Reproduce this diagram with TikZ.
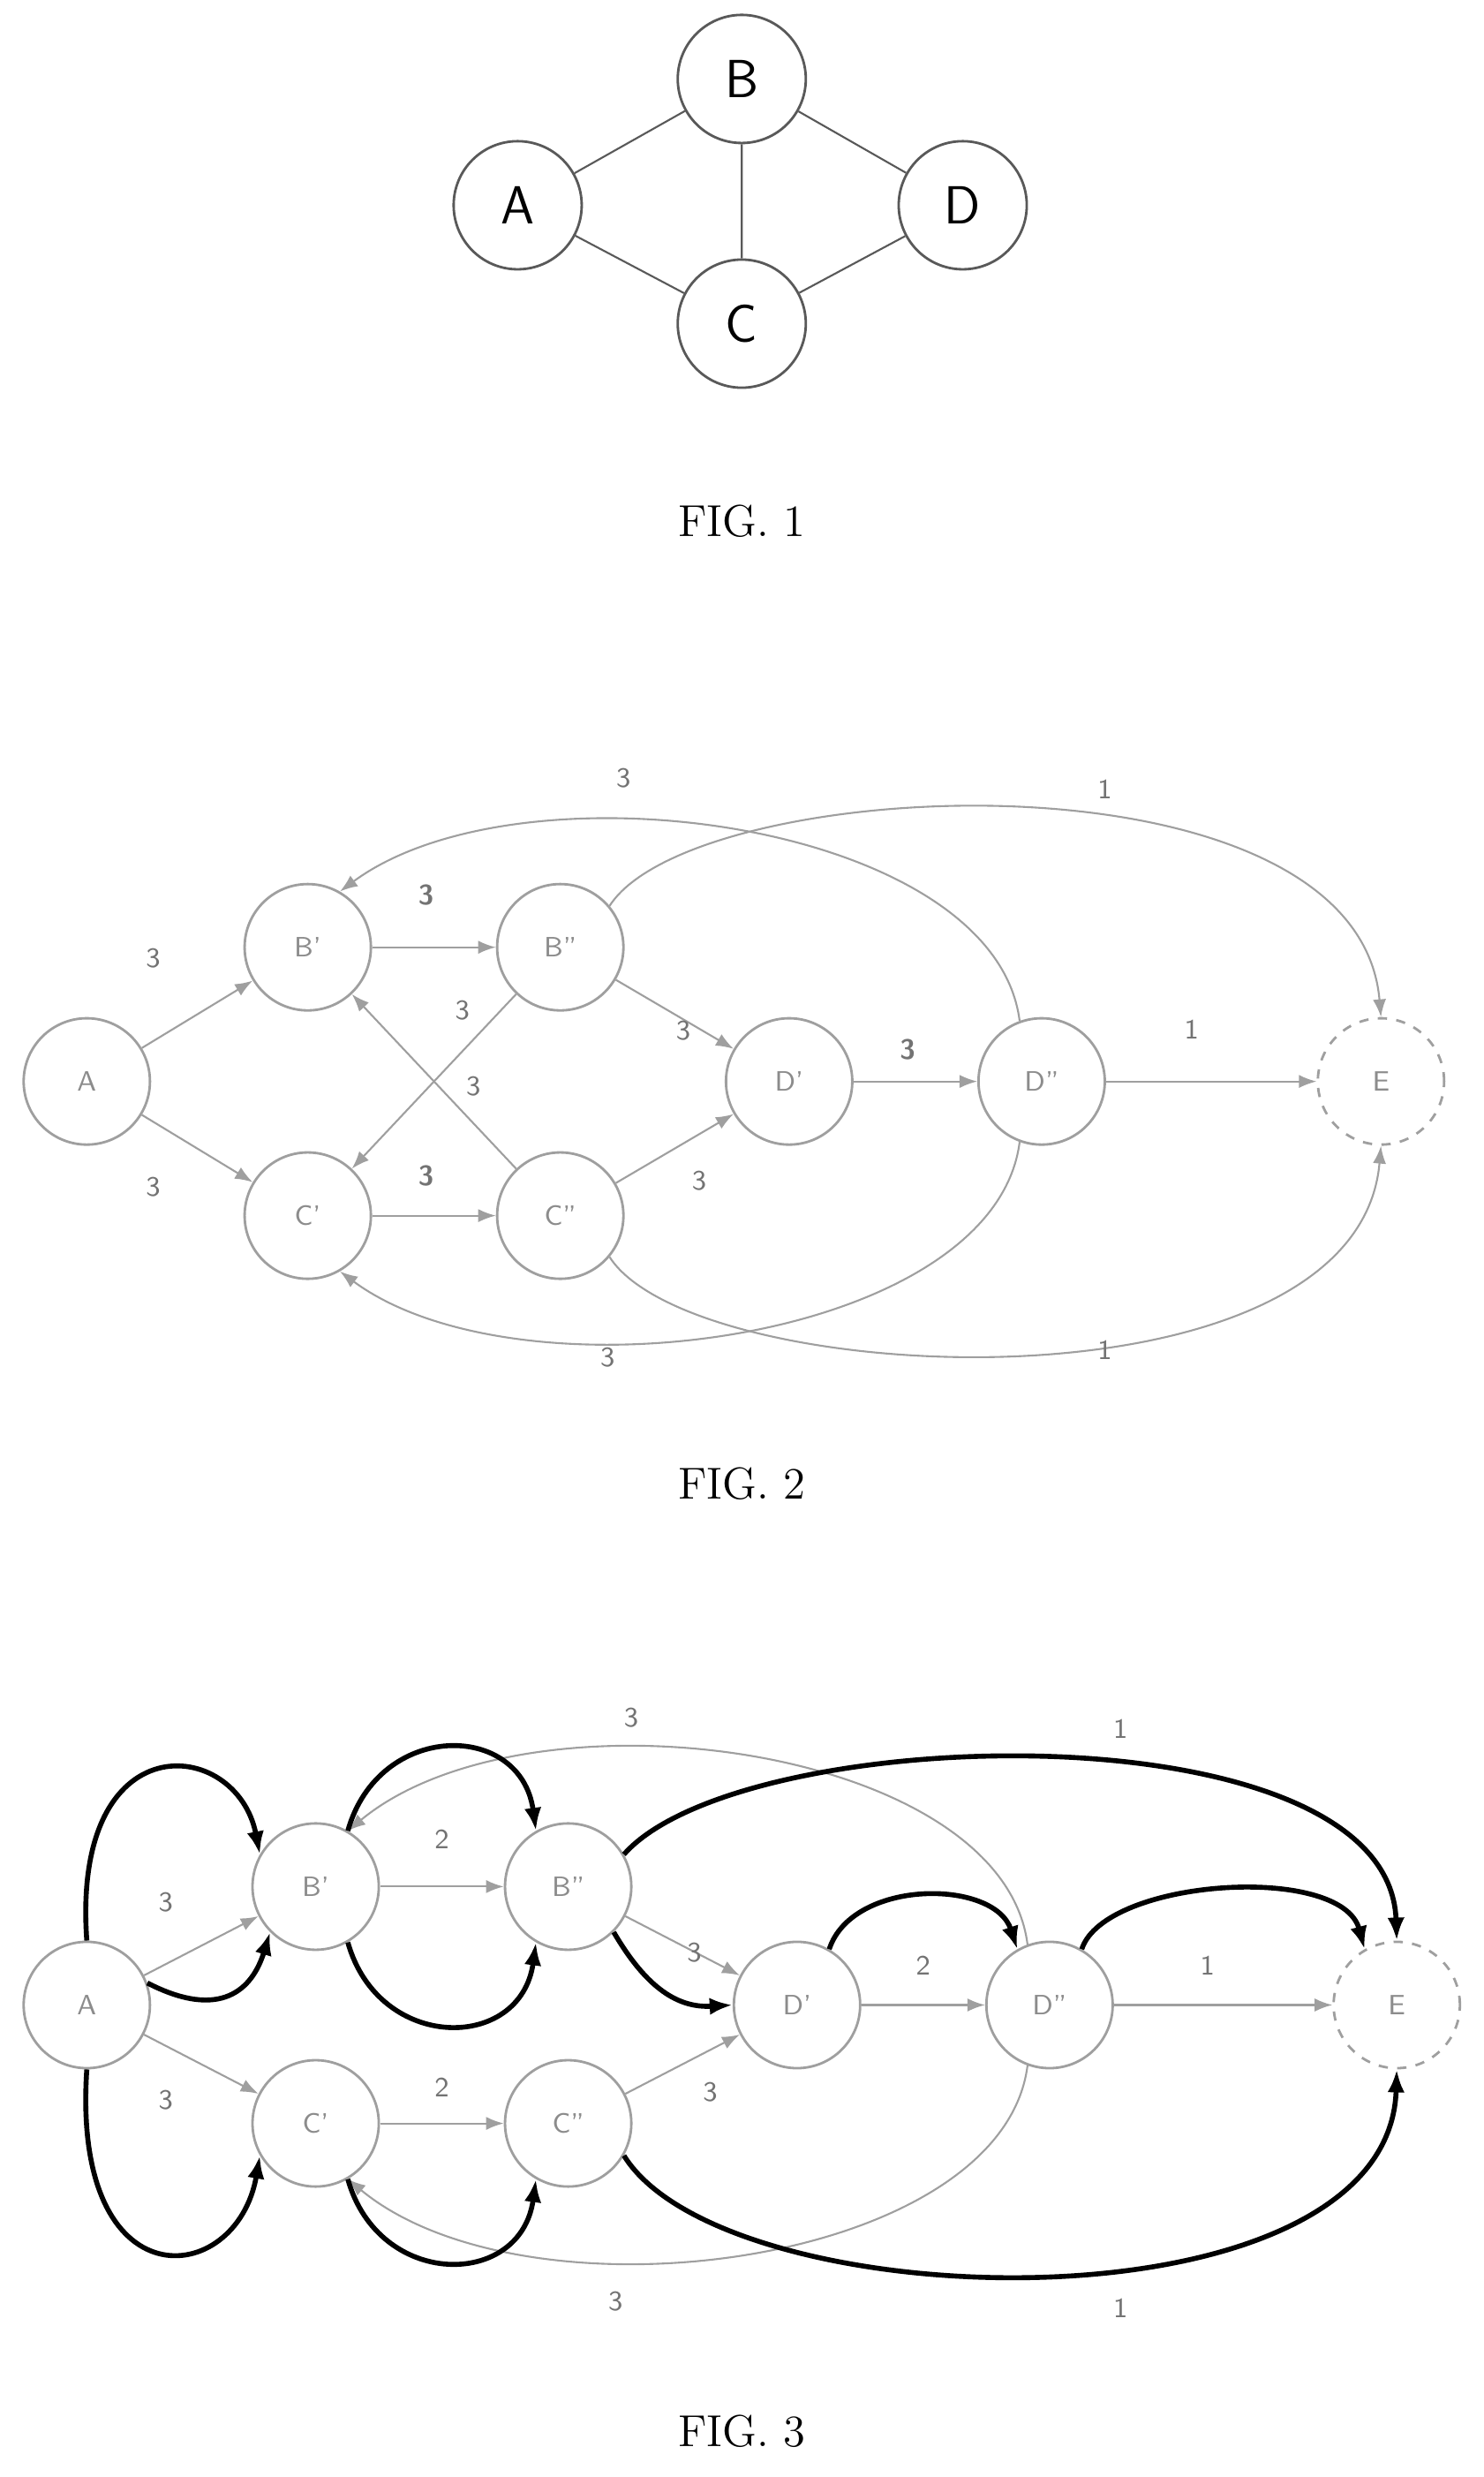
\documentclass[tikz,border=0pt]{standalone}
\usetikzlibrary{arrows.meta}
\tikzset{
  vtx/.style={circle, draw=gray!75, thick, minimum size=1.43cm, inner sep=0pt, font=\sffamily\small, text=gray!90},
  big/.style={circle, draw=gray!70!black, thick, minimum size=1.45cm, inner sep=0pt, font=\sffamily\LARGE},
  edge/.style={draw=gray!75, semithick, -{Latex[length=2mm]}},
  hl/.style={draw=black, line width=1.6pt, -{Latex[length=2.6mm]}},
  wt/.style={font=\sffamily\small, text=gray!90!black},
  figcap/.style={font=\Large}
}
\begin{document}
\begin{tikzpicture}[x=0.01787cm, y=-0.01787cm]
\useasboundingbox (0,0) rectangle (940,1569);

% fig 1
\node[big] (a) at (328,130) {A};
\node[big] (b) at (470,50) {B};
\node[big] (c) at (470,205) {C};
\node[big] (d) at (610,130) {D};
\draw[gray!70!black, semithick] (a) -- (b) (a) -- (c) (b) -- (c) (b) -- (d) (c) -- (d);
\node[figcap] (f1) at (470,330) {FIG. 1};

% fig 2
\node[vtx] (A2) at (55,685) {A};
\node[vtx] (Bp2) at (195,600) {B'};
\node[vtx] (Bpp2) at (355,600) {B''};
\node[vtx] (Cp2) at (195,770) {C'};
\node[vtx] (Cpp2) at (355,770) {C''};
\node[vtx] (Dp2) at (500,685) {D'};
\node[vtx] (Dpp2) at (660,685) {D''};
\node[vtx, dashed] (E2) at (875,685) {E};
\draw[edge] (A2) -- (Bp2);
\draw[edge] (A2) -- (Cp2);
\draw[edge] (Bp2) -- (Bpp2);
\draw[edge] (Cp2) -- (Cpp2);
\draw[edge] (Bpp2) -- (Dp2);
\draw[edge] (Cpp2) -- (Dp2);
\draw[edge] (Dp2) -- (Dpp2);
\draw[edge] (Dpp2) -- (E2);
\draw[edge] (Cpp2) -- (Bp2);
\draw[edge] (Bpp2) -- (Cp2);
\draw[edge] (Dpp2.110) .. controls (630,520) and (330,480) .. (Bp2.60);
\draw[edge] (Bpp2.40) .. controls (440,490) and (860,470) .. (E2.north);
\draw[edge] (Cpp2.-40) .. controls (440,880) and (860,900) .. (E2.south);
\draw[edge] (Dpp2.-110) .. controls (630,850) and (330,890) .. (Cp2.-60);
\node[wt] (w1) at (97,607) {3};
\node[wt] (w2) at (97,752) {3};
\node[wt] (w3) at (270,567) {\textbf{3}};
\node[wt] (w4) at (270,745) {\textbf{3}};
\node[wt] (w5) at (433,653) {3};
\node[wt] (w6) at (443,748) {3};
\node[wt] (w7) at (575,665) {\textbf{3}};
\node[wt] (w8) at (755,652) {1};
\node[wt] (w9) at (293,640) {3};
\node[wt] (w10) at (300,688) {3};
\node[wt] (w11) at (395,493) {3};
\node[wt] (w12) at (700,500) {1};
\node[wt] (w13) at (700,855) {1};
\node[wt] (w14) at (385,860) {3};
\node[figcap] (f2) at (470,940) {FIG. 2};

% fig 3
\node[vtx] (A3) at (55,1270) {A};
\node[vtx] (Bp3) at (200,1195) {B'};
\node[vtx] (Bpp3) at (360,1195) {B''};
\node[vtx] (Cp3) at (200,1345) {C'};
\node[vtx] (Cpp3) at (360,1345) {C''};
\node[vtx] (Dp3) at (505,1270) {D'};
\node[vtx] (Dpp3) at (665,1270) {D''};
\node[vtx, dashed] (E3) at (885,1270) {E};
\draw[edge] (A3) -- (Bp3);
\draw[edge] (A3) -- (Cp3);
\draw[edge] (Bp3) -- (Bpp3);
\draw[edge] (Cp3) -- (Cpp3);
\draw[edge] (Bpp3) -- (Dp3);
\draw[edge] (Cpp3) -- (Dp3);
\draw[edge] (Dp3) -- (Dpp3);
\draw[edge] (Dpp3) -- (E3);
\draw[edge] (Dpp3.110) .. controls (635,1105) and (335,1065) .. (Bp3.60);
\draw[edge] (Dpp3.-110) .. controls (635,1435) and (335,1475) .. (Cp3.-60);
% thick paths
\draw[hl] (A3.north) .. controls (45,1090) and (150,1100) .. (Bp3.150);
\draw[hl] (A3.20) .. controls (140,1280) and (160,1260) .. (Bp3.-135);
\draw[hl] (A3.south) .. controls (45,1460) and (150,1450) .. (Cp3.-150);
\draw[hl] (Bp3.60) .. controls (240,1090) and (330,1090) .. (Bpp3.120);
\draw[hl] (Bp3.-60) .. controls (240,1300) and (330,1300) .. (Bpp3.-120);
\draw[hl] (Cp3.-60) .. controls (240,1450) and (330,1450) .. (Cpp3.-120);
\draw[hl] (Bpp3.-45) .. controls (410,1260) and (430,1272) .. (Dp3.west);
\draw[hl] (Bpp3.30) .. controls (470,1090) and (880,1080) .. (E3.north);
\draw[hl] (Dp3.60) .. controls (540,1190) and (630,1190) .. (Dpp3.120);
\draw[hl] (Dpp3.60) .. controls (700,1190) and (850,1180) .. (E3.120);
\draw[hl] (Cpp3.-30) .. controls (460,1470) and (880,1480) .. (E3.south);
\node[wt] (v1) at (105,1205) {3};
\node[wt] (v2) at (105,1330) {3};
\node[wt] (v3) at (280,1165) {2};
\node[wt] (v4) at (280,1322) {2};
\node[wt] (v5) at (440,1237) {3};
\node[wt] (v6) at (450,1325) {3};
\node[wt] (v7) at (585,1245) {2};
\node[wt] (v8) at (765,1245) {1};
\node[wt] (v9) at (400,1088) {3};
\node[wt] (v10) at (710,1095) {1};
\node[wt] (v11) at (710,1462) {1};
\node[wt] (v12) at (390,1458) {3};
\node[figcap] (f3) at (470,1540) {FIG. 3};
\end{tikzpicture}
\end{document}
